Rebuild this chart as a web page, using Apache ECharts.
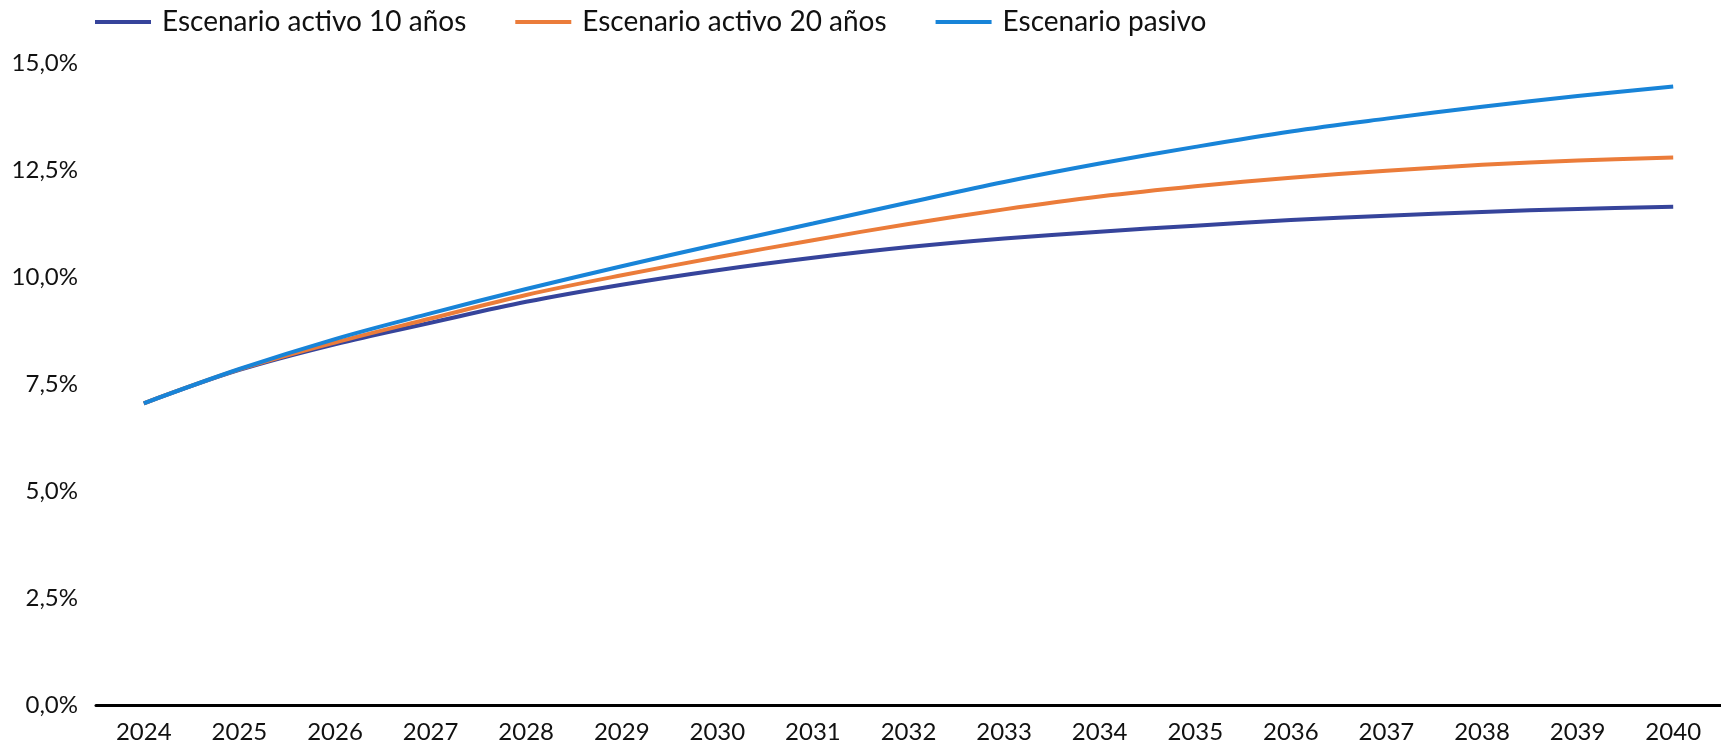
<!DOCTYPE html>
<html>
<head>
<meta charset="utf-8">
<script src="https://cdn.jsdelivr.net/npm/echarts@6/dist/echarts.min.js"></script>
<style>html,body{margin:0;padding:0;background:#fff;}#c{width:1721px;height:747px;}</style>
</head>
<body>
<div id="c"></div>
<script>
const years = ['2024','2025','2026','2027','2028','2029','2030','2031','2032','2033','2034','2035','2036','2037','2038','2039','2040'];
const activo10 = [7.05, 7.83, 8.43, 8.93, 9.42, 9.82, 10.16, 10.45, 10.70, 10.90, 11.06, 11.20, 11.33, 11.43, 11.52, 11.59, 11.64];
const activo20 = [7.05, 7.84, 8.47, 9.03, 9.58, 10.04, 10.46, 10.86, 11.24, 11.58, 11.88, 12.12, 12.32, 12.48, 12.62, 12.72, 12.79];
const pasivo = [7.05, 7.85, 8.55, 9.15, 9.72, 10.25, 10.76, 11.25, 11.74, 12.22, 12.65, 13.04, 13.40, 13.70, 13.98, 14.23, 14.45];
const names = ['Escenario activo 10 años', 'Escenario activo 20 años', 'Escenario pasivo'];
const colors = ['#36449B', '#EB7C3A', '#1884D8'];

const chart = echarts.init(document.getElementById('c'), null, {renderer: 'canvas'});
const mk = (name, data, color) => ({
  name, type: 'line', data, smooth: 0.35, symbol: 'none',
  lineStyle: {width: 4, color, cap: 'butt'}, itemStyle: {color}
});
chart.setOption({
  animation: false,
  textStyle: {fontFamily: 'Lato'},
  legend: {
    left: 90, top: 3,
    icon: 'rect', itemWidth: 56, itemHeight: 4, itemGap: 49,
    textStyle: {fontFamily: 'Lato', fontSize: 28, color: '#111', padding: [0, 0, 0, 6]},
    data: names
  },
  grid: {left: 96, right: -9, top: 63, bottom: 42, containLabel: false},
  xAxis: {
    type: 'category', data: years, boundaryGap: true,
    axisLine: {lineStyle: {color: '#000', width: 3}},
    axisTick: {show: false},
    axisLabel: {fontFamily: 'Lato', fontSize: 24, color: '#111', margin: 15}
  },
  yAxis: {
    type: 'value', min: 0, max: 15, interval: 2.5,
    axisLine: {show: false}, axisTick: {show: false}, splitLine: {show: false},
    axisLabel: {fontFamily: 'Lato', fontSize: 24, color: '#111', margin: 18,
      formatter: v => v.toFixed(1).replace('.', ',') + '%'}
  },
  series: [mk(names[0], activo10, colors[0]), mk(names[1], activo20, colors[1]), mk(names[2], pasivo, colors[2])]
});
</script>
</body>
</html>
